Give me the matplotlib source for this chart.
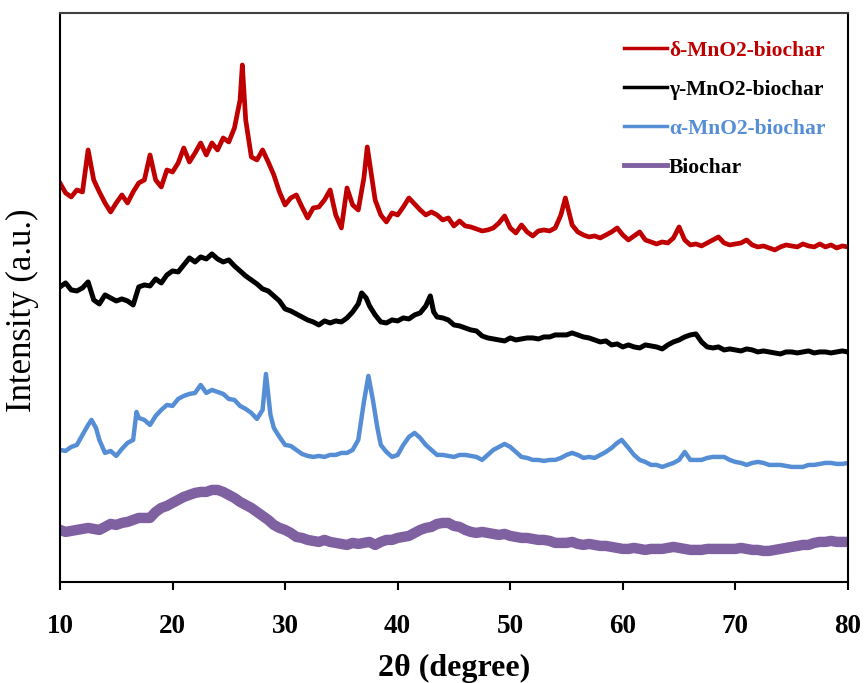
import numpy as np
import matplotlib
matplotlib.use('Agg')
import matplotlib.pyplot as plt

plt.rcParams['font.family'] = ['Liberation Serif', 'DejaVu Serif']
plt.rcParams['font.weight'] = 'bold'

# XRD patterns, intensity in arbitrary units
red_x = [10, 10.5, 11, 11.5, 12, 12.5, 13, 13.5, 14, 14.5, 15, 15.5, 16, 16.5, 17, 17.5, 18, 18.5, 19, 19.5,
         20, 20.5, 21, 21.5, 22, 22.5, 23, 23.5, 24, 24.5, 25, 25.5, 26, 26.2, 26.5, 27, 27.5, 28, 28.5, 29,
         29.5, 30, 30.5, 31, 31.5, 32, 32.5, 33, 33.5, 34, 34.5, 35, 35.5, 36, 36.5, 37, 37.3, 37.6, 38, 38.5,
         39, 39.5, 40, 40.5, 41, 41.5, 42, 42.5, 43, 43.5, 44, 44.5, 45, 45.5, 46, 46.5, 47, 47.5, 48, 48.5,
         49, 49.5, 50, 50.5, 51, 51.5, 52, 52.5, 53, 53.5, 54, 54.5, 54.9, 55.5, 56, 56.5, 57, 57.5, 58, 58.5,
         59, 59.5, 60, 60.5, 61, 61.5, 62, 62.5, 63, 63.5, 64, 64.5, 65, 65.5, 66, 66.5, 67, 67.5, 68, 68.5,
         69, 69.5, 70, 70.5, 71, 71.5, 72, 72.5, 73, 73.5, 74, 74.5, 75, 75.5, 76, 76.5, 77, 77.5, 78, 78.5,
         79, 79.5, 80]
red_y = [399, 389, 385, 392, 390, 432, 402, 390, 379, 370, 379, 387, 379, 390, 399, 402, 427, 402, 395, 412,
         410, 419, 434, 420, 429, 439, 427, 439, 432, 444, 440, 454, 482, 517, 462, 425, 422, 432, 420, 407,
         390, 377, 384, 387, 375, 364, 374, 375, 382, 392, 367, 354, 394, 377, 372, 404, 435, 412, 382, 367,
         360, 369, 367, 375, 384, 378, 372, 367, 370, 367, 362, 364, 356, 361, 356, 355, 353, 351, 352, 354,
         359, 366, 354, 349, 357, 350, 346, 351, 352, 351, 354, 367, 384, 357, 350, 347, 345, 346, 344, 347,
         350, 354, 347, 342, 346, 350, 342, 340, 338, 340, 339, 344, 355, 342, 337, 338, 336, 339, 342, 345,
         339, 337, 338, 339, 342, 337, 335, 336, 334, 332, 335, 337, 336, 335, 338, 336, 335, 338, 335, 337,
         334, 336, 335]

black_x = [10, 10.5, 11, 11.5, 12, 12.5, 13, 13.5, 14, 14.5, 15, 15.5, 16, 16.5, 17, 17.5, 18, 18.5, 19, 19.5,
           20, 20.5, 21, 21.5, 22, 22.5, 23, 23.5, 24, 24.5, 25, 25.5, 26, 26.5, 27, 27.5, 28, 28.5, 29, 29.5,
           30, 30.5, 31, 31.5, 32, 32.5, 33, 33.5, 34, 34.5, 35, 35.5, 36, 36.5, 36.8, 37.2, 37.5, 38, 38.5, 39,
           39.5, 40, 40.5, 41, 41.5, 42, 42.5, 42.9, 43.2, 43.5, 44, 44.5, 45, 45.5, 46, 46.5, 47, 47.5, 48,
           48.5, 49, 49.5, 50, 50.5, 51, 51.5, 52, 52.5, 53, 53.5, 54, 54.5, 55, 55.5, 56, 56.5, 57, 57.5, 58,
           58.5, 59, 59.5, 60, 60.5, 61, 61.5, 62, 62.5, 63, 63.5, 64, 64.5, 65, 65.5, 66, 66.5, 67, 67.5, 68,
           68.5, 69, 69.5, 70, 70.5, 71, 71.5, 72, 72.5, 73, 73.5, 74, 74.5, 75, 75.5, 76, 76.5, 77, 77.5, 78,
           78.5, 79, 79.5, 80]
black_y = [295, 299, 292, 291, 294, 300, 282, 278, 287, 284, 281, 283, 281, 277, 295, 297, 296, 303, 299, 307,
           311, 310, 317, 324, 320, 325, 323, 328, 323, 320, 322, 316, 311, 306, 302, 298, 293, 291, 286, 281,
           273, 271, 268, 265, 262, 260, 257, 261, 259, 261, 260, 264, 270, 278, 289, 284, 276, 267, 260, 259,
           262, 261, 264, 263, 267, 269, 276, 286, 270, 265, 264, 262, 257, 256, 254, 252, 251, 246, 244,
           243, 242, 241, 244, 242, 243, 244, 244, 243, 245, 245, 247, 247, 247, 249, 247, 245, 244, 242, 240,
           241, 237, 238, 235, 237, 235, 234, 237, 236, 235, 233, 237, 240, 242, 245, 247, 248, 240, 235, 234,
           235, 232, 233, 232, 231, 233, 232, 230, 231, 230, 229, 228, 230, 230, 229, 230, 231, 229, 230, 230,
           229, 230, 231, 230]

blue_x = [10, 10.5, 11, 11.5, 12, 12.5, 12.8, 13.2, 13.5, 14, 14.5, 15, 15.5, 16, 16.5, 16.8, 17, 17.5, 18,
          18.5, 19, 19.5, 20, 20.5, 21, 21.5, 22, 22.5, 23, 23.5, 24, 24.5, 25, 25.5, 26, 26.5, 27, 27.5, 28,
          28.3, 28.7, 29, 29.5, 30, 30.5, 31, 31.5, 32, 32.5, 33, 33.5, 34, 34.5, 35, 35.5, 36, 36.5, 37, 37.4,
          37.8, 38.2, 38.5, 39, 39.5, 40, 40.5, 41, 41.5, 42, 42.5, 43, 43.5, 44, 44.5, 45, 45.5, 46, 46.5, 47,
          47.5, 48, 48.5, 49, 49.5, 50, 50.5, 51, 51.5, 52, 52.5, 53, 53.5, 54, 54.5, 55, 55.5, 56, 56.5, 57,
          57.5, 58, 58.5, 59, 59.5, 59.9, 60.5, 61, 61.5, 62, 62.5, 63, 63.5, 64, 64.5, 65, 65.5, 66, 66.5, 67,
          67.5, 68, 68.5, 69, 69.5, 70, 70.5, 71, 71.5, 72, 72.5, 73, 73.5, 74, 74.5, 75, 75.5, 76, 76.5, 77,
          77.5, 78, 78.5, 79, 79.5, 80]
blue_y = [132, 131, 135, 137, 147, 157, 162, 154, 142, 129, 131, 126, 133, 139, 142, 170, 164, 162, 157,
          166, 172, 177, 176, 183, 186, 188, 189, 197, 189, 192, 190, 188, 183, 182, 176, 173, 169, 163, 172,
          208, 167, 154, 145, 137, 136, 132, 128, 126, 125, 126, 125, 127, 127, 129, 129, 132, 142, 180, 206,
          182, 154, 137, 130, 125, 127, 137, 145, 149, 144, 137, 132, 127, 127, 126, 125, 127, 127, 126, 125,
          122, 127, 132, 135, 138, 135, 130, 125, 124, 122, 122, 121, 122, 122, 124, 127, 129, 127, 124, 125,
          124, 127, 130, 134, 139, 142, 134, 127, 122, 120, 117, 117, 115, 117, 119, 122, 130, 122, 122, 122,
          124, 125, 125, 125, 122, 120, 119, 117, 119, 120, 119, 117, 117, 117, 116, 115, 115, 115, 117, 117,
          118, 119, 119, 118, 118, 119]

purple_x = np.arange(10, 80.5, 0.5)
purple_y = [52, 50, 51, 52, 53, 54, 53, 52, 55, 58,
            57, 59, 60, 62, 64, 64, 64, 70, 74, 76,
            79, 82, 85, 87, 89, 90, 90, 92, 92, 90,
            87, 84, 80, 77, 74, 70, 66, 62, 57, 54,
            52, 49, 45, 44, 42, 41, 40, 42, 40, 39,
            38, 37, 39, 38, 39, 40, 37, 40, 42, 42,
            44, 45, 46, 49, 52, 54, 55, 58, 59, 59,
            56, 55, 52, 50, 49, 50, 49, 48, 47, 48,
            46, 45, 44, 44, 43, 42, 42, 41, 39, 39,
            39, 40, 38, 37, 38, 37, 36, 36, 35, 34,
            33, 33, 34, 33, 32, 33, 33, 33, 34, 35,
            34, 33, 32, 32, 32, 33, 33, 33, 33, 33,
            33, 34, 33, 32, 32, 31, 31, 32, 33, 34,
            35, 36, 37, 37, 39, 40, 40, 41, 40, 40,
            40]

labels = ['δ-MnO2-biochar', 'γ-MnO2-biochar', 'α-MnO2-biochar', 'Biochar']
colors = ['#C00000', '#000000', '#558ED5', '#7F60A0']
text_colors = ['#C00000', '#000000', '#558ED5', '#000000']

fig = plt.figure(figsize=(8.64, 6.83), dpi=100)
ax = fig.add_axes([0.0694, 0.148, 0.912, 0.833])

ax.plot(red_x, red_y, color=colors[0], lw=3.4, label=labels[0])
ax.plot(black_x, black_y, color=colors[1], lw=3.6, label=labels[1])
ax.plot(blue_x, blue_y, color=colors[2], lw=3.2, label=labels[2])
ax.plot(purple_x, purple_y, color=colors[3], lw=7.5, label=labels[3])

ax.set_xlim(10, 80)
ax.set_ylim(0, 569)
ax.set_xticks([10, 20, 30, 40, 50, 60, 70, 80])
ax.set_yticks([])
ax.tick_params(axis='x', direction='out', length=6, width=1.5, labelsize=19.5, pad=17)
for lab in ax.get_xticklabels():
    lab.set_fontweight('bold')
for s in ax.spines.values():
    s.set_linewidth(1.5)
ax.spines['top'].set_color('#404040')

ax.set_xlabel('2θ (degree)', fontsize=23, fontweight='bold', labelpad=11)
ax.set_ylabel('Intensity (a.u.)', fontsize=25, fontweight='normal')
ax.yaxis.set_label_coords(-0.026, 0.478)

leg = ax.legend(loc='upper right', bbox_to_anchor=(0.996, 0.985), frameon=False,
                prop={'size': 15.5, 'weight': 'bold'}, handlelength=2.0, handletextpad=0.1,
                labelspacing=0.88)
for txt, c in zip(leg.get_texts(), text_colors):
    txt.set_color(c)
for h, w in zip(leg.get_lines(), [2.5, 2.5, 2.5, 3.5]):
    h.set_linewidth(w)

fig.savefig('out.png', dpi=100)
